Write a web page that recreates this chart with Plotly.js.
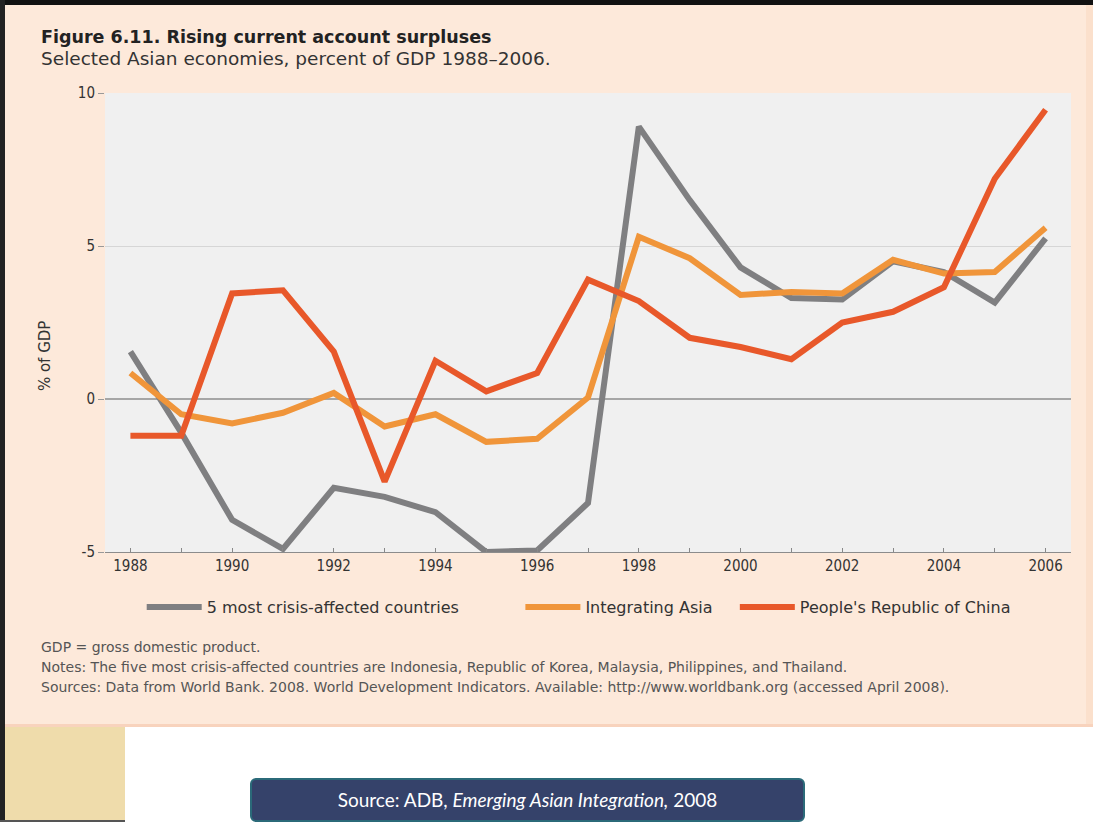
<!DOCTYPE html>
<html>
<head>
<meta charset="utf-8">
<script src="https://cdn.plot.ly/plotly-3.0.1.min.js"></script>
<style>
  html, body { margin: 0; padding: 0; width: 1093px; height: 822px; overflow: hidden; background: #ffffff; }
  #frame { position: absolute; left: 0; top: 0; width: 1093px; height: 822px; }
  #blackTop { position: absolute; left: 0; top: 0; width: 1093px; height: 5px; background: #111; }
  #blackLeft { position: absolute; left: 0; top: 0; width: 5px; height: 822px; background: #222; }
  #panel { position: absolute; left: 5px; top: 5px; width: 1088px; height: 719px; background: #fde9da; border-bottom: 3px solid #f8d3bd; }
  #panelRight { position: absolute; left: 1086px; top: 5px; width: 7px; height: 719px; background: #fbe0cc; }
  #tan { position: absolute; left: 5px; top: 727px; width: 120px; height: 93px; background: #efdcab; }
  #tanBottom { position: absolute; left: 0; top: 820px; width: 125px; height: 2px; background: #555; }
  #chart { position: absolute; left: 0; top: 0; width: 1093px; height: 822px; }
  #source { position: absolute; left: 250px; top: 778px; width: 551px; height: 40px; background: #35426a; border: 2px solid #2b6a79; border-radius: 6px;
            color: #ffffff; font-family: Lato, "Open Sans", sans-serif; font-size: 19px; line-height: 40px; text-align: center; }
</style>
</head>
<body>
<div id="frame">
  <div id="panel"></div>
  <div id="panelRight"></div>
  <div id="blackTop"></div>
  <div id="blackLeft"></div>
  <div id="tan"></div>
  <div id="tanBottom"></div>
  <div id="chart"></div>
  <div id="source">Source: ADB, <i>Emerging Asian Integration,</i> 2008</div>
</div>
<script>
// ---- Data ----
const years = [1988, 1989, 1990, 1991, 1992, 1993, 1994, 1995, 1996, 1997,
               1998, 1999, 2000, 2001, 2002, 2003, 2004, 2005, 2006];
const crisisFive = [1.55, -1.1, -3.95, -4.9, -2.9, -3.2, -3.7, -5.0, -4.95, -3.4,
                    8.9, 6.5, 4.3, 3.3, 3.25, 4.5, 4.15, 3.15, 5.25];
const integratingAsia = [0.85, -0.5, -0.8, -0.45, 0.2, -0.9, -0.5, -1.4, -1.3, 0.05,
                         5.3, 4.6, 3.4, 3.5, 3.45, 4.55, 4.1, 4.15, 5.6];
const prc = [-1.2, -1.2, 3.45, 3.55, 1.55, -2.7, 1.25, 0.25, 0.85, 3.9,
             3.2, 2.0, 1.7, 1.3, 2.5, 2.85, 3.65, 7.2, 9.45];
const seriesNames = ["5 most crisis-affected countries", "Integrating Asia", "People's Republic of China"];
const yTickVals = [-5, 0, 5, 10];
const yTickText = ["-5", "0", "5", "10"];

const wide = '"DejaVu Sans", Verdana, sans-serif';
const cond = '"DejaVu Sans Condensed", "Liberation Sans Narrow", "Liberation Sans", Arial, sans-serif';

const traces = [
  { x: years, y: crisisFive, name: seriesNames[0], type: 'scatter', mode: 'lines',
    line: { color: '#7f7f81', width: 6 }, legend: 'legend' },
  { x: years, y: integratingAsia, name: seriesNames[1], type: 'scatter', mode: 'lines',
    line: { color: '#f0953a', width: 6 }, legend: 'legend2' },
  { x: years, y: prc, name: seriesNames[2], type: 'scatter', mode: 'lines',
    line: { color: '#e8582a', width: 6 }, legend: 'legend3' }
];

const legendFont = { family: wide, size: 16, color: '#333333' };
const legY = -0.12;
const legCommon = { y: legY, xanchor: 'left', yanchor: 'middle', orientation: 'h', font: legendFont, bgcolor: 'rgba(0,0,0,0)', itemwidth: 55 };

const layout = {
  width: 1093, height: 822,
  margin: { l: 105, r: 22, t: 93, b: 270 },
  paper_bgcolor: 'rgba(0,0,0,0)',
  plot_bgcolor: '#f0f0f0',
  showlegend: true,
  legend:  Object.assign({ x: 0.038 }, legCommon),
  legend2: Object.assign({ x: 0.43 }, legCommon),
  legend3: Object.assign({ x: 0.652 }, legCommon),
  xaxis: {
    range: [1987.5, 2006.5],
    tick0: 1988, dtick: 2,
    ticks: 'inside', ticklen: 4, tickcolor: '#888888', tickwidth: 1,
    minor: { tick0: 1988, dtick: 1, ticks: 'inside', ticklen: 4, tickcolor: '#888888', showgrid: false },
    showgrid: false, zeroline: false,
    showline: true, linecolor: '#8c8c8c', linewidth: 1,
    tickfont: { family: cond, size: 15, color: '#333333' },
    fixedrange: true
  },
  yaxis: {
    range: [-5, 10],
    tickvals: yTickVals, ticktext: yTickText,
    ticks: 'outside', ticklen: 6, tickcolor: '#999999',
    showgrid: true, gridcolor: '#d6d6d6', gridwidth: 1,
    zeroline: true, zerolinecolor: '#a6a6a6', zerolinewidth: 2,
    showline: false,
    tickfont: { family: cond, size: 15, color: '#333333' },
    fixedrange: true
  },
  annotations: [
    { text: '<b>Figure 6.11. Rising current account surpluses</b>', xref: 'paper', yref: 'paper',
      x: -0.068, y: 1.123, xanchor: 'left', yanchor: 'middle', showarrow: false,
      font: { family: wide, size: 17.5, color: '#222222' } },
    { text: 'Selected Asian economies, percent of GDP 1988–2006.', xref: 'paper', yref: 'paper',
      x: -0.068, y: 1.075, xanchor: 'left', yanchor: 'middle', showarrow: false,
      font: { family: wide, size: 18.5, color: '#333333' } },
    { text: '% of GDP', xref: 'paper', yref: 'paper', textangle: -90,
      x: -0.062, y: 0.427, xanchor: 'center', yanchor: 'middle', showarrow: false,
      font: { family: wide, size: 15, color: '#333333' } },
    { text: 'GDP = gross domestic product.', xref: 'paper', yref: 'paper',
      x: -0.068, y: -0.208, xanchor: 'left', yanchor: 'middle', showarrow: false,
      font: { family: wide, size: 14, color: '#555555' } },
    { text: 'Notes: The five most crisis-affected countries are Indonesia, Republic of Korea, Malaysia, Philippines, and Thailand.', xref: 'paper', yref: 'paper',
      x: -0.068, y: -0.250, xanchor: 'left', yanchor: 'middle', showarrow: false,
      font: { family: wide, size: 14, color: '#555555' } },
    { text: 'Sources: Data from World Bank. 2008. World Development Indicators. Available: http://www.worldbank.org (accessed April 2008).', xref: 'paper', yref: 'paper',
      x: -0.068, y: -0.294, xanchor: 'left', yanchor: 'middle', showarrow: false,
      font: { family: wide, size: 14, color: '#555555' } }
  ]
};

Plotly.newPlot('chart', traces, layout, { displayModeBar: false, staticPlot: true });
</script>
</body>
</html>
